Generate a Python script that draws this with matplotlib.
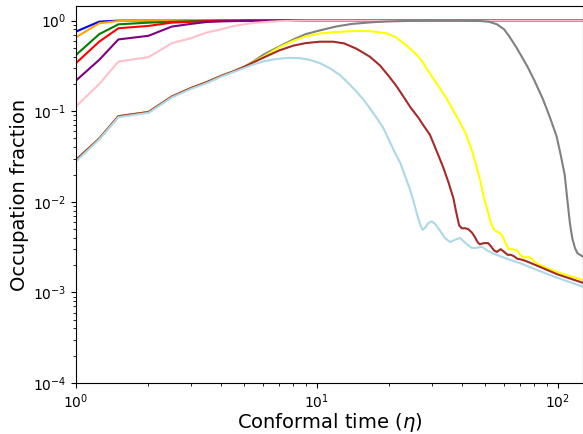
import matplotlib
matplotlib.use("Agg")
import matplotlib.pyplot as plt

# ---- data ----
eta_blue = [1, 1.25, 1.5, 2, 5, 20, 127]
occ_blue = [0.757, 0.975, 1.0, 1.0, 1.0, 1.0, 1.0]

eta_orange = [1, 1.25, 1.5, 2, 5, 20, 127]
occ_orange = [0.656, 0.935, 0.99, 1.0, 1.0, 1.0, 1.0]

eta_green = [1, 1.25, 1.5, 2, 2.5, 3, 3.5, 4, 20, 127]
occ_green = [0.418, 0.71, 0.91, 0.95, 0.97, 0.985, 0.995, 1.0, 1.0, 1.0]

eta_red = [1, 1.25, 1.5, 2, 2.5, 3, 3.5, 4, 5, 20, 127]
occ_red = [0.34, 0.587, 0.824, 0.874, 0.95, 0.97, 0.985, 0.995, 1.0, 1.0, 1.0]

eta_purple = [1, 1.25, 1.5, 2, 2.5, 3, 3.5, 4, 5, 6, 20, 127]
occ_purple = [0.218, 0.37, 0.62, 0.68, 0.86, 0.92, 0.967, 0.98, 0.995, 1.0, 1.0, 1.0]

eta_pink = [1, 1.25, 1.5, 2, 2.5, 3, 3.5, 4, 4.5, 5, 5.5, 6, 6.5, 7, 8, 9, 20, 127]
occ_pink = [0.113, 0.2, 0.353, 0.395, 0.563, 0.64, 0.74, 0.80, 0.87, 0.91, 0.945,
            0.96, 0.975, 0.985, 0.995, 1.0, 1.0, 1.0]

eta_gray = [1, 1.25, 1.5, 2, 2.5, 3, 3.5, 4, 4.5, 5, 5.5, 6, 7, 8, 9, 10.5, 12, 14,
            17, 20, 25, 30, 40, 48, 52, 56, 60, 63, 67, 71, 75, 80, 87, 93, 99, 103,
            107, 110, 112.5, 115, 118, 121, 127]
occ_gray = [0.029, 0.05, 0.088, 0.098, 0.145, 0.18, 0.21, 0.245, 0.275, 0.31, 0.36,
            0.42, 0.52, 0.62, 0.71, 0.79, 0.86, 0.92, 0.96, 0.98, 0.995, 1.0, 1.0,
            0.99, 0.97, 0.91, 0.8, 0.67, 0.52, 0.40, 0.31, 0.22, 0.135, 0.085,
            0.053, 0.033, 0.02, 0.01, 0.0058, 0.0040, 0.0031, 0.0027, 0.0025]

eta_yellow = [1, 1.25, 1.5, 2, 2.5, 3, 3.5, 4, 4.5, 5, 5.5, 6, 7, 8, 9, 10.3, 12, 14,
              15.5, 17, 19.5, 21.4, 23.6, 26, 27.5, 29.5, 32, 34.5, 37, 39, 41.4,
              44.5, 47.5, 49.5, 51.5, 53, 54.5, 56, 57.6, 59, 60.5, 62.6, 65, 67.9,
              70, 72.1, 74.5, 76.6, 80, 84.6, 93, 105, 127]
occ_yellow = [0.029, 0.05, 0.088, 0.098, 0.145, 0.18, 0.21, 0.245, 0.275, 0.31,
              0.355, 0.40, 0.51, 0.60, 0.67, 0.72, 0.75, 0.765, 0.77, 0.76, 0.725,
              0.65, 0.53, 0.42, 0.35, 0.26, 0.19, 0.14, 0.10, 0.078, 0.058, 0.034,
              0.018, 0.011, 0.0075, 0.0057, 0.0049, 0.0047, 0.0045, 0.0042, 0.0036,
              0.0030, 0.0030, 0.0029, 0.0026, 0.00243, 0.00245, 0.00245, 0.0022,
              0.0020, 0.0018, 0.0016, 0.00138]

eta_brown = [1, 1.25, 1.5, 2, 2.5, 3, 3.5, 4, 4.5, 5, 5.5, 6, 7, 8, 9, 10.3, 11.7, 13,
             14.6, 16.6, 18.3, 20, 21.4, 22.9, 24.5, 26.4, 27.7, 29.5, 31.5, 33.5,
             35.2, 36.9, 38, 39, 40, 41.5, 42.5, 44, 45.3, 46.5, 47.5, 49.5, 51.5,
             53, 54.5, 56, 58, 60, 62, 64, 66, 68, 71, 74.5, 85, 100, 127]
occ_brown = [0.029, 0.05, 0.088, 0.098, 0.145, 0.18, 0.21, 0.245, 0.275, 0.31, 0.35,
             0.39, 0.47, 0.53, 0.565, 0.585, 0.585, 0.56, 0.49, 0.40, 0.32, 0.24,
             0.19, 0.145, 0.11, 0.085, 0.07, 0.055, 0.036, 0.024, 0.0165, 0.011,
             0.0075, 0.0055, 0.0051, 0.0051, 0.0050, 0.0046, 0.0041, 0.0036, 0.0034,
             0.0035, 0.0035, 0.0032, 0.0029, 0.0028, 0.0030, 0.0028, 0.0026, 0.0026,
             0.0025, 0.00235, 0.0023, 0.0022, 0.0019, 0.00158, 0.00128]

eta_lightblue = [1, 1.25, 1.5, 2, 2.5, 3, 3.5, 4, 4.5, 5, 5.5, 6, 6.5, 7, 7.7, 8.5,
                 9.3, 10.3, 11.4, 12.5, 13.5, 14.6, 15.6, 16.6, 17.8, 18.9, 20.1,
                 21.2, 22.2, 23.3, 24.4, 25.2, 26.0, 26.8, 27.5, 28.2, 29, 30, 31,
                 32.5, 34, 35.8, 37.5, 39.3, 41.5, 44, 46, 48.4, 51, 55.7, 63, 70,
                 82, 99, 127]
occ_lightblue = [0.028, 0.049, 0.086, 0.096, 0.142, 0.176, 0.205, 0.24, 0.27, 0.30,
                 0.33, 0.355, 0.37, 0.38, 0.388, 0.385, 0.37, 0.34, 0.295, 0.25,
                 0.205, 0.165, 0.135, 0.108, 0.083, 0.065, 0.046, 0.034, 0.027,
                 0.019, 0.0136, 0.0102, 0.0075, 0.0057, 0.0049, 0.0052, 0.0058,
                 0.0061, 0.0057, 0.0048, 0.0040, 0.0036, 0.0038, 0.0040, 0.0035,
                 0.0031, 0.0031, 0.0032, 0.0029, 0.0026, 0.0023, 0.0021, 0.00177,
                 0.00146, 0.00116]

series = [
    (eta_blue, occ_blue, "blue"),
    (eta_orange, occ_orange, "orange"),
    (eta_green, occ_green, "green"),
    (eta_red, occ_red, "red"),
    (eta_purple, occ_purple, "purple"),
    (eta_pink, occ_pink, "pink"),
    (eta_gray, occ_gray, "gray"),
    (eta_yellow, occ_yellow, "yellow"),
    (eta_brown, occ_brown, "brown"),
    (eta_lightblue, occ_lightblue, "lightblue"),
]

fig = plt.figure(figsize=(5.83, 4.34), dpi=100)
ax = fig.add_axes([76 / 583, 51 / 434, 507 / 583, 377 / 434])

for x, y, c in series:
    ax.plot(x, y, color=c, lw=1.5)

ax.set_xscale("log")
ax.set_yscale("log")
ax.set_xlim(1, 127.5)
ax.set_ylim(1e-4, 1.45)
ax.set_xlabel(r"Conformal time ($\eta$)", fontsize=14, labelpad=0)
ax.set_ylabel("Occupation fraction", fontsize=14, labelpad=3)
ax.tick_params(labelsize=10)
ax.tick_params(axis="x", pad=3)

fig.savefig("out.png", dpi=100)
